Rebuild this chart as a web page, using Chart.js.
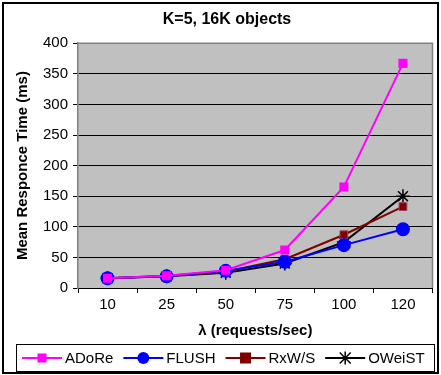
<!DOCTYPE html>
<html>
<head>
<meta charset="utf-8">
<script src="https://cdn.jsdelivr.net/npm/chart.js@4"></script>
<style>
  body { margin: 0; background: #fff; }
</style>
</head>
<body>
<canvas id="chart" width="441" height="375"></canvas>
<script>
const labels = ['10', '25', '50', '75', '100', '120'];
const adore = [16, 20, 29, 62, 165, 367];
const flush = [16, 19, 28, 43, 70, 96];
const rxws = [16, 20, 27, 47, 87, 133];
const oweist = [16, 19, 25, 40, 75, 150];
const yTicks = [0, 50, 100, 150, 200, 250, 300, 350, 400];

const FONT = 'Arial, "Liberation Sans", sans-serif';

// dessine un marqueur façon Excel
function drawMarker(g, style, x, y, size, color) {
    g.fillStyle = color;
    g.strokeStyle = color;
    if (style === 'rect') {
        g.fillRect(x - size, y - size, size * 2, size * 2);
    } else if (style === 'circle') {
        g.beginPath(); g.arc(x, y, size, 0, Math.PI * 2); g.fill();
    } else {
        g.lineWidth = 1.5;
        g.beginPath();
        g.moveTo(x - size, y - size); g.lineTo(x + size, y + size);
        g.moveTo(x + size, y - size); g.lineTo(x - size, y + size);
        g.moveTo(x, y - size - 1); g.lineTo(x, y + size + 1);
        g.stroke();
    }
}

const plotBox = {
    id: 'plotBox',
    beforeDraw(chart) {
        const { ctx, chartArea: a } = chart;
        ctx.save();
        ctx.fillStyle = '#c0c0c0';
        ctx.fillRect(a.left, a.top, a.right - a.left, a.bottom - a.top);
        ctx.restore();
    },
    afterDraw(chart) {
        const { ctx, chartArea: a } = chart;
        ctx.save();
        ctx.strokeStyle = '#808080';
        ctx.lineWidth = 1.5;
        ctx.beginPath();
        ctx.moveTo(a.left, a.top); ctx.lineTo(a.right, a.top); ctx.lineTo(a.right, a.bottom);
        ctx.stroke();

        // légende maison : trait + marqueur + texte
        ctx.strokeStyle = '#000';
        ctx.lineWidth = 1;
        ctx.strokeRect(16.5, 344.5, 418, 27);
        ctx.font = '15px ' + FONT;
        ctx.textBaseline = 'middle';
        let x = 22;
        const y = 358;
        chart.data.datasets.forEach(ds => {
            ctx.strokeStyle = ds.borderColor;
            ctx.lineWidth = 2;
            ctx.beginPath(); ctx.moveTo(x, y); ctx.lineTo(x + 40, y); ctx.stroke();
            drawMarker(ctx, ds.pointStyle, x + 20, y, ds.legendSize, ds.backgroundColor);
            ctx.fillStyle = '#000';
            ctx.fillText(ds.label, x + 43, y + 1);
            x += 43 + ctx.measureText(ds.label).width + 10;
        });

        // cadre extérieur
        ctx.strokeStyle = '#000';
        ctx.lineWidth = 2;
        ctx.strokeRect(3, 3, 435, 370);
        ctx.restore();
    }
};

const ctx = document.getElementById('chart').getContext('2d');
new Chart(ctx, {
    type: 'line',
    data: {
        labels: labels,
        datasets: [
            { label: 'ADoRe', data: adore, borderColor: '#ff00ff', backgroundColor: '#ff00ff',
              pointStyle: 'rect', pointRadius: 5, borderWidth: 2, legendSize: 4.5 },
            { label: 'FLUSH', data: flush, borderColor: '#0000ff', backgroundColor: '#0000ff',
              pointStyle: 'circle', pointRadius: 6, borderWidth: 2, legendSize: 6 },
            { label: 'RxW/S', data: rxws, borderColor: '#800000', backgroundColor: '#800000',
              pointStyle: 'rect', pointRadius: 5.5, borderWidth: 2, pointBorderColor: '#9c4060',
              pointBorderWidth: 1, legendSize: 5.5 },
            { label: 'OWeiST', data: oweist, borderColor: '#000000', backgroundColor: '#000000',
              pointStyle: 'star', pointRadius: 7, borderWidth: 2, pointBorderWidth: 1.5, legendSize: 5.5 }
        ]
    },
    options: {
        responsive: false,
        animation: false,
        layout: { padding: { left: 14, right: 1, top: 3, bottom: 35 } },
        elements: { line: { tension: 0 } },
        plugins: {
            title: {
                display: true, text: 'K=5, 16K objects', color: '#000',
                font: { family: FONT, size: 16, weight: 'bold' },
                padding: { top: 7, bottom: 14 }
            },
            legend: { display: false },
            tooltip: { enabled: false }
        },
        scales: {
            x: {
                offset: true,
                grid: { offset: true, drawOnChartArea: false, color: '#000', tickLength: 5 },
                border: { color: '#000', width: 1 },
                ticks: { color: '#000', padding: 3, font: { family: FONT, size: 15 } },
                title: {
                    display: true, text: 'λ (requests/sec)', color: '#000',
                    font: { family: FONT, size: 15, weight: 'bold' }, padding: { top: 5, bottom: 0 }
                }
            },
            y: {
                min: 0, max: 400,
                afterBuildTicks(scale) { scale.ticks = yTicks.map(v => ({ value: v })); },
                grid: { color: '#000', lineWidth: 1, tickLength: 5 },
                border: { color: '#808080', width: 1.5 },
                ticks: { color: '#000', padding: 5, font: { family: FONT, size: 15 } },
                title: {
                    display: true, text: 'Mean Responce Time (ms)', color: '#000',
                    font: { family: FONT, size: 15, weight: 'bold' }, padding: { top: 0, bottom: 6 }
                }
            }
        }
    },
    plugins: [plotBox]
});
</script>
</body>
</html>
